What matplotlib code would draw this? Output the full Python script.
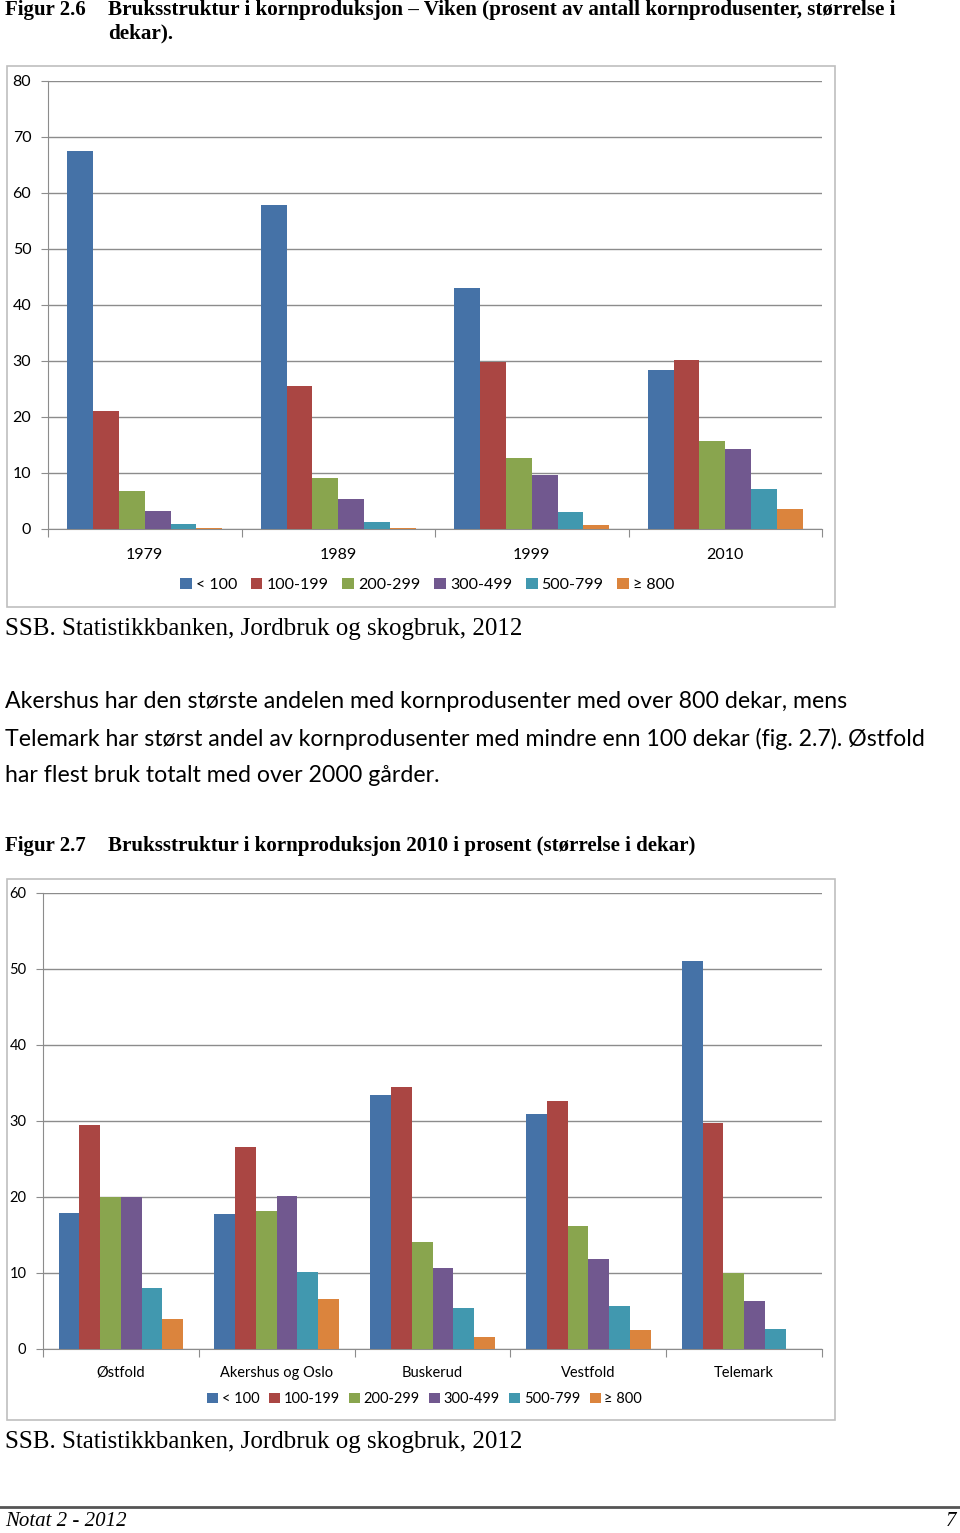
import numpy as np
import matplotlib
matplotlib.use("Agg")
import matplotlib.pyplot as plt
from matplotlib.patches import Rectangle

plt.rcParams['font.family'] = ['Lato', 'DejaVu Sans']

# data
groups = ['< 100', '100-199', '200-299', '300-499', '500-799', '≥ 800']
colors = ['#4572A7', '#AA4643', '#89A54E', '#71588F', '#4198AF', '#DB843D']

years = ['1979', '1989', '1999', '2010']
viken = {
    '< 100':   [67.5, 57.9, 43.0, 28.4],
    '100-199': [21.1, 25.5, 29.8, 30.2],
    '200-299': [6.8, 9.1, 12.7, 15.7],
    '300-499': [3.2, 5.4, 9.6, 14.3],
    '500-799': [0.9, 1.25, 3.0, 7.1],
    '≥ 800':   [0.1, 0.2, 0.7, 3.6],
}

fylker = ['Østfold', 'Akershus og Oslo', 'Buskerud', 'Vestfold', 'Telemark']
fylke_2010 = {
    '< 100':   [17.9, 17.8, 33.4, 30.9, 51.1],
    '100-199': [29.5, 26.6, 34.5, 32.6, 29.7],
    '200-299': [20.0, 18.2, 14.1, 16.2, 10.0],
    '300-499': [20.0, 20.1, 10.7, 11.8, 6.3],
    '500-799': [8.0, 10.1, 5.4, 5.7, 2.6],
    '≥ 800':   [3.9, 6.6, 1.6, 2.5, 0.0],
}

W, H = 960, 1533
fig = plt.figure(figsize=(W / 100, H / 100), dpi=100)


def fx(x):
    return x / W


def fy(y):
    return 1 - y / H


def stolpediagram(box, cats, data, ymax, step, tick_fs, cat_fs, cat_pad, leg_y, colsp):
    x0, y0, x1, y1 = box
    ax = fig.add_axes([fx(x0), fy(y1), fx(x1 - x0), (y1 - y0) / H])
    n = len(groups)
    bw = 0.8 / n
    x = np.arange(len(cats))
    for i, g in enumerate(groups):
        ax.bar(x - 0.4 + bw * (i + 0.5), data[g], width=bw, color=colors[i],
               label=g, zorder=3, linewidth=0)
    ax.set_xlim(-0.5, len(cats) - 0.5)
    ax.set_ylim(0, ymax)
    ax.set_yticks(np.arange(0, ymax + 1, step))
    ax.yaxis.grid(True, color='#8C8C8C', linewidth=1, zorder=0)
    ax.set_xticks(np.arange(-0.5, len(cats), 1.0))
    ax.set_xticklabels([])
    ax.set_xticks(x, minor=True)
    ax.set_xticklabels(cats, minor=True, fontsize=cat_fs)
    ax.tick_params(axis='x', which='major', length=6, color='#8C8C8C', direction='out')
    ax.tick_params(axis='x', which='minor', length=0, pad=cat_pad)
    ax.tick_params(axis='y', length=5, color='#8C8C8C', labelsize=tick_fs, pad=7)
    for s in ['top', 'right']:
        ax.spines[s].set_visible(False)
    for s in ['left', 'bottom']:
        ax.spines[s].set_color('#8C8C8C')
    ax.legend(loc='center', bbox_to_anchor=(fx((x0 + x1) / 2 - 8), fy(leg_y)),
              bbox_transform=fig.transFigure, ncol=n, frameon=False,
              fontsize=cat_fs, handlelength=0.75, handleheight=0.75,
              handletextpad=0.25, columnspacing=colsp)
    return ax


# figur 2.6
fig.text(fx(5), fy(10), 'Figur 2.6', family='Liberation Serif', weight='bold',
         fontsize=15, va='center')
fig.text(fx(108), fy(10),
         'Bruksstruktur i kornproduksjon – Viken (prosent av antall kornprodusenter, størrelse i',
         family='Liberation Serif', weight='bold', fontsize=15.2, va='center')
fig.text(fx(108), fy(33), 'dekar).', family='Liberation Serif', weight='bold',
         fontsize=15.2, va='center')

fig.patches.append(Rectangle((fx(7), fy(607)), fx(828), 541 / H, transform=fig.transFigure,
                             fill=False, edgecolor='#BFBFBF', linewidth=1.2))
stolpediagram((48, 81, 822, 529), years, viken, 80, 10, 11.5, 11.5, 14, 585, 0.85)

fig.text(fx(5), fy(629), 'SSB. Statistikkbanken, Jordbruk og skogbruk, 2012',
         family='Liberation Serif', fontsize=18, va='center')

avsnitt = [
    'Akershus har den største andelen med kornprodusenter med over 800 dekar, mens',
    'Telemark har størst andel av kornprodusenter med mindre enn 100 dekar (fig. 2.7). Østfold',
    'har flest bruk totalt med over 2000 gårder.',
]
for i, linje in enumerate(avsnitt):
    fig.text(fx(5), fy(701 + 37.5 * i), linje, fontsize=16.7, va='center')

# figur 2.7
fig.text(fx(5), fy(846), 'Figur 2.7', family='Liberation Serif', weight='bold',
         fontsize=15, va='center')
fig.text(fx(108), fy(846), 'Bruksstruktur i kornproduksjon 2010 i prosent (størrelse i dekar)',
         family='Liberation Serif', weight='bold', fontsize=15.1, va='center')

fig.patches.append(Rectangle((fx(7), fy(1420)), fx(828), 541 / H, transform=fig.transFigure,
                             fill=False, edgecolor='#BFBFBF', linewidth=1.2))
stolpediagram((43, 893, 822, 1349), fylker, fylke_2010, 60, 10, 10.5, 10.5, 12, 1399, 0.65)

fig.text(fx(5), fy(1442), 'SSB. Statistikkbanken, Jordbruk og skogbruk, 2012',
         family='Liberation Serif', fontsize=18, va='center')

# bunntekst
fig.add_artist(plt.Line2D([0, 1], [fy(1507), fy(1507)], transform=fig.transFigure,
                          color='#555555', linewidth=2))
fig.text(fx(5), fy(1521), 'Notat 2 - 2012', family='Liberation Serif', style='italic',
         fontsize=15, va='center')
fig.text(fx(956), fy(1521), '7', family='Liberation Serif', style='italic',
         fontsize=15, va='center', ha='right')

fig.savefig('out.png', dpi=100)
